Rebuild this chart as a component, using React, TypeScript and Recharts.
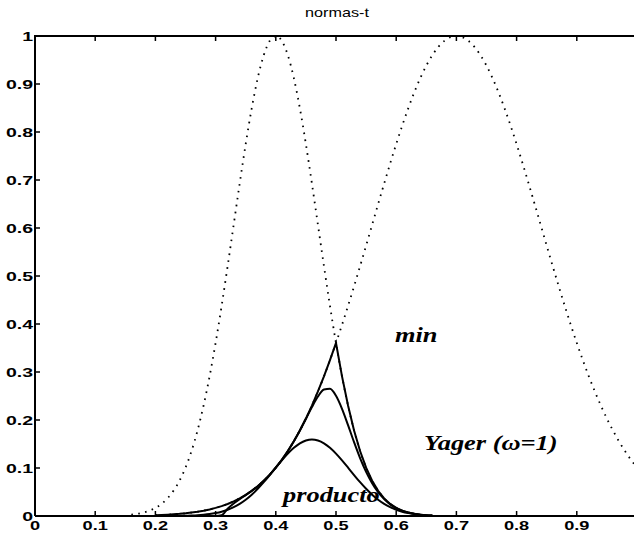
import React from "react";
import { LineChart, Line, XAxis, YAxis } from "recharts";

// x grids
const xA = [0.16,0.17,0.18,0.19,0.2,0.21,0.22,0.23,0.24,0.25,0.26,0.27,0.28,0.29,0.3,0.31,0.32,0.33,0.34,0.35,0.36,0.37,0.38,0.39,0.4,0.41,0.42,0.43,0.44,0.45,0.46,0.47,0.48,0.49,0.5,0.51,0.52,0.53,0.54,0.55,0.56,0.57,0.58,0.59,0.6,0.61,0.62,0.63,0.64];
const bellA = [0.0028,0.0045,0.0072,0.0111,0.0169,0.0251,0.0367,0.0524,0.0734,0.1007,0.1353,0.1783,0.2301,0.2909,0.3604,0.4376,0.5205,0.6065,0.6926,0.7748,0.8493,0.9123,0.96,0.9899,1,0.9899,0.96,0.9123,0.8493,0.7748,0.6926,0.6065,0.5205,0.4376,0.3604,0.2909,0.2301,0.1783,0.1353,0.1007,0.0734,0.0524,0.0367,0.0251,0.0169,0.0111,0.0072,0.0045,0.0028];

const xB = [0.2,0.21,0.22,0.23,0.24,0.25,0.26,0.27,0.28,0.29,0.3,0.31,0.32,0.33,0.34,0.35,0.36,0.37,0.38,0.39,0.4,0.41,0.42,0.43,0.44,0.45,0.46,0.47,0.48,0.49,0.5,0.51,0.52,0.53,0.54,0.55,0.56,0.57,0.58,0.59,0.6,0.61,0.62,0.63,0.64,0.65,0.66,0.67,0.68,0.69,0.7,0.71,0.72,0.73,0.74,0.75,0.76,0.77,0.78,0.79,0.8,0.81,0.82,0.83,0.84,0.85,0.86,0.87,0.88,0.89,0.9,0.91,0.92,0.93,0.94,0.95,0.96,0.97,0.98,0.99,1.0];
const bellB = [0.0017,0.0022,0.0028,0.0036,0.0045,0.0057,0.0072,0.0089,0.0111,0.0137,0.0169,0.0206,0.0251,0.0304,0.0367,0.0439,0.0524,0.0621,0.0734,0.0862,0.1007,0.117,0.1353,0.1557,0.1783,0.203,0.2301,0.2594,0.2909,0.3247,0.3604,0.3982,0.4376,0.4785,0.5205,0.5633,0.6065,0.6498,0.6926,0.7344,0.7748,0.8133,0.8493,0.8825,0.9123,0.9382,0.96,0.9773,0.9899,0.9975,1,0.9975,0.9899,0.9773,0.96,0.9382,0.9123,0.8825,0.8493,0.8133,0.7748,0.7344,0.6926,0.6498,0.6065,0.5633,0.5205,0.4785,0.4376,0.3982,0.3604,0.3247,0.2909,0.2594,0.2301,0.203,0.1783,0.1557,0.1353,0.117,0.1007];

const xT = [0.2,0.21,0.22,0.23,0.24,0.25,0.26,0.27,0.28,0.29,0.3,0.31,0.32,0.33,0.34,0.35,0.36,0.37,0.38,0.39,0.4,0.41,0.42,0.43,0.44,0.45,0.46,0.47,0.48,0.49,0.5,0.51,0.52,0.53,0.54,0.55,0.56,0.57,0.58,0.59,0.6,0.61,0.62,0.63,0.64,0.65,0.66];
const tMin = [0.0017,0.0022,0.0028,0.0036,0.0045,0.0057,0.0072,0.0089,0.0111,0.0137,0.0169,0.0206,0.0251,0.0304,0.0367,0.0439,0.0524,0.0621,0.0734,0.0862,0.1007,0.117,0.1353,0.1557,0.1783,0.203,0.2301,0.2594,0.2909,0.3247,0.3604,0.2909,0.2301,0.1783,0.1353,0.1007,0.0734,0.0524,0.0367,0.0251,0.0169,0.0111,0.0072,0.0045,0.0028,0.0017,0.001];
const tProd = [0,0.0001,0.0001,0.0002,0.0003,0.0006,0.001,0.0016,0.0026,0.004,0.0061,0.009,0.0131,0.0184,0.0254,0.034,0.0445,0.0567,0.0705,0.0853,0.1007,0.1158,0.1299,0.142,0.1514,0.1573,0.1594,0.1573,0.1514,0.1421,0.1299,0.1158,0.1007,0.0853,0.0704,0.0567,0.0445,0.034,0.0254,0.0184,0.0131,0.009,0.0061,0.004,0.0026,0.0016,0.001];
const tYager = [0,0,0,0,0,0,0,0,0,0,0,0.0014,0.0152,0.0261,0.0352,0.0435,0.0523,0.0621,0.0734,0.0862,0.1007,0.117,0.1353,0.1557,0.1782,0.2022,0.2269,0.2489,0.2634,0.2649,0.2504,0.2233,0.1893,0.1538,0.1207,0.092,0.0684,0.0496,0.0352,0.0243,0.0165,0.0109,0.0071,0.0045,0.0028,0.0017,0.001];

const xTicks = [0, 0.1, 0.2, 0.3, 0.4, 0.5, 0.6, 0.7, 0.8, 0.9];
const xTickLabels = ["0", "0.1", "0.2", "0.3", "0.4", "0.5", "0.6", "0.7", "0.8", "0.9"];
const yTicks = [0, 0.1, 0.2, 0.3, 0.4, 0.5, 0.6, 0.7, 0.8, 0.9, 1];
const yTickLabels = ["0", "0.1", "0.2", "0.3", "0.4", "0.5", "0.6", "0.7", "0.8", "0.9", "1"];

const title = "normas-t";
const labelMin = "min";
const labelYager = "Yager (\u03c9=1)";
const labelProd = "producto";

const toPts = (xs: number[], ys: number[]) => xs.map((x, i) => ({ x, y: ys[i] }));
const dataA = toPts(xA, bellA);
const dataB = toPts(xB, bellB);
const dataMin = toPts(xT, tMin);
const dataProd = toPts(xT, tProd);
const dataYager = toPts(xT, tYager);

// chart geometry
const CHART_W = 680;
const CHART_H = 533;
const M_TOP = 36;
const M_RIGHT = 43;
const Y_AXIS_W = 35;
const X_AXIS_H = 17;
const PLOT_W = CHART_W - M_RIGHT - Y_AXIS_W;
const px = (v: number) => Y_AXIS_W + v * PLOT_W;

const SANS = "'Liberation Sans', Arial, Helvetica, sans-serif";
const SERIF = "'Liberation Serif', 'Times New Roman', serif";

const XTick = (props: any) => {
  const { x, y, payload } = props;
  const i = xTicks.indexOf(payload.value);
  return (
    <g>
      <line x1={x} y1={y} x2={x} y2={y - 5} stroke="#000" strokeWidth={1.5} />
      <text transform={`translate(${x},${y + 14}) scale(1.4,1)`} textAnchor="middle" fontFamily={SANS} fontSize={13} fontWeight="bold" fill="#000">
        {i >= 0 ? xTickLabels[i] : String(payload.value)}
      </text>
    </g>
  );
};

const YTick = (props: any) => {
  const { x, y, payload } = props;
  const i = yTicks.indexOf(payload.value);
  return (
    <g>
      <line x1={x} y1={y} x2={x + 5} y2={y} stroke="#000" strokeWidth={1.5} />
      <text transform={`translate(${x - 2},${y + 4.5}) scale(1.5,1)`} textAnchor="end" fontFamily={SANS} fontSize={13} fontWeight="bold" fill="#000">
        {i >= 0 ? yTickLabels[i] : String(payload.value)}
      </text>
    </g>
  );
};

export default function App() {
  return (
    <div style={{ position: "absolute", left: 0, top: 0, width: 634, height: 533, overflow: "hidden", background: "#fff" }}>
      <LineChart width={CHART_W} height={CHART_H} margin={{ top: M_TOP, right: M_RIGHT, bottom: 0, left: 0 }}>
        <XAxis
          type="number"
          dataKey="x"
          domain={[0, 1]}
          ticks={xTicks}
          height={X_AXIS_H}
          tickSize={0}
          tickMargin={0}
          tickLine={false}
          axisLine={{ stroke: "#000", strokeWidth: 2 }}
          tick={<XTick />}
        />
        <YAxis
          type="number"
          domain={[0, 1]}
          ticks={yTicks}
          width={Y_AXIS_W}
          tickSize={0}
          tickMargin={0}
          tickLine={false}
          axisLine={{ stroke: "#000", strokeWidth: 2 }}
          tick={<YTick />}
        />
        <Line data={dataA} dataKey="y" type="monotone" stroke="#000" strokeWidth={1.8} strokeDasharray="1.6 5.4" dot={false} isAnimationActive={false} />
        <Line data={dataB} dataKey="y" type="monotone" stroke="#000" strokeWidth={1.8} strokeDasharray="1.6 5.4" dot={false} isAnimationActive={false} />
        <Line data={dataProd} dataKey="y" type="monotone" stroke="#000" strokeWidth={2} dot={false} isAnimationActive={false} />
        <Line data={dataYager} dataKey="y" type="monotone" stroke="#000" strokeWidth={2} dot={false} isAnimationActive={false} />
        <Line data={dataMin} dataKey="y" type="linear" stroke="#000" strokeWidth={2} dot={false} isAnimationActive={false} />
      </LineChart>
      <svg width={634} height={533} style={{ position: "absolute", left: 0, top: 0, pointerEvents: "none" }}>
        <line x1={Y_AXIS_W - 1} y1={M_TOP} x2={CHART_W} y2={M_TOP} stroke="#000" strokeWidth={2} />
        {xTicks.slice(1).map((t) => (
          <line key={t} x1={px(t)} y1={M_TOP} x2={px(t)} y2={M_TOP + 5} stroke="#000" strokeWidth={1.5} />
        ))}
        <text transform="translate(337,17) scale(1.35,1)" textAnchor="middle" fontFamily={SANS} fontSize={12} fill="#000">{title}</text>
        <text transform="translate(395,342) scale(1.2,1)" fontFamily={SERIF} fontSize={22} fontStyle="italic" fontWeight="bold" fill="#000">{labelMin}</text>
        <text transform="translate(424,450) scale(1.2,1)" fontFamily={SERIF} fontSize={22} fontStyle="italic" fontWeight="bold" fill="#000">{labelYager}</text>
        <text transform="translate(283,502) scale(1.2,1)" fontFamily={SERIF} fontSize={22} fontStyle="italic" fontWeight="bold" fill="#000">{labelProd}</text>
      </svg>
    </div>
  );
}
